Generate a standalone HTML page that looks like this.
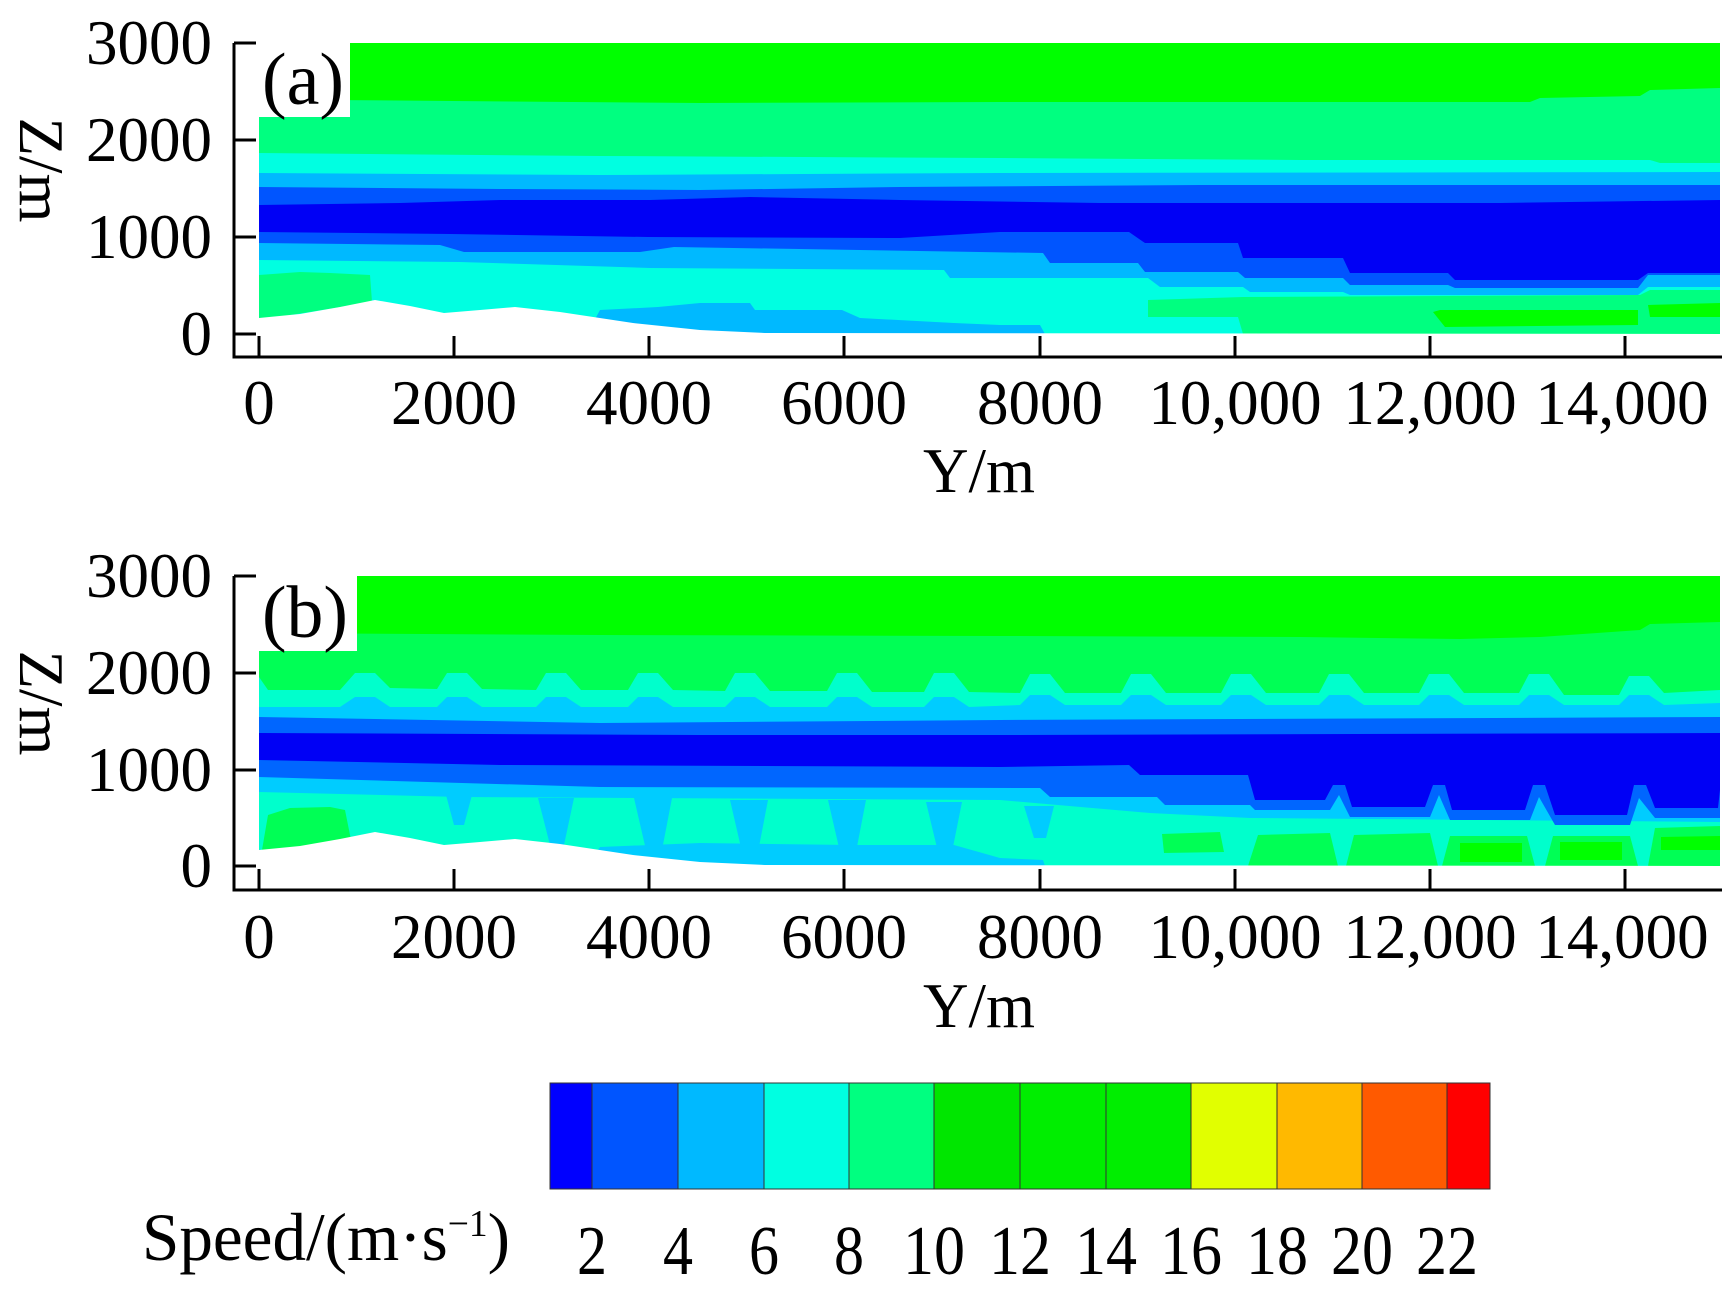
<!DOCTYPE html>
<html><head><meta charset="utf-8"><style>
html,body{margin:0;padding:0;background:#fff;}
svg{display:block;}
text{font-family:"Liberation Serif",serif;fill:#000;}
</style></head><body>
<svg width="1730" height="1297" viewBox="0 0 1730 1297" xmlns="http://www.w3.org/2000/svg">

<!-- ================= PLOT A ================= -->
<g>
<rect x="259" y="43" width="1461" height="291" fill="#00ffe1"/>
<path fill="#00b9ff" d="M259,43 L259,260 L460,262 L650,268 L944,270 L950,278 L1148,278 L1160,287 L1243,287 L1250,292 L1343,292 L1350,295 L1638,295 L1648,287 L1720,287 L1720,43 Z"/>
<path fill="#0055ff" d="M259,43 L259,243 L440,245 L464,252 L640,252 L674,247 L1043,253 L1050,263 L1138,263 L1145,272 L1238,272 L1245,278 L1343,278 L1350,285 L1448,285 L1455,288 L1638,288 L1648,275 L1720,275 L1720,43 Z"/>
<path fill="#0000f5" d="M259,43 L259,232 L450,234 L648,237 L900,238 L1000,232 L1129,232 L1145,243 L1238,243 L1243,258 L1343,258 L1350,273 L1448,273 L1455,280 L1638,280 L1648,273 L1720,273 L1720,43 Z"/>
<path fill="#0055ff" d="M259,43 L259,205 L400,203 L500,200 L650,200 L750,197 L900,200 L1100,203 L1300,203 L1500,203 L1720,200 L1720,43 Z"/>
<path fill="#00b9ff" d="M259,43 L259,187 L500,189 L700,190 L900,187 L1200,185 L1720,185 L1720,43 Z"/>
<path fill="#00ffe1" d="M259,43 L259,173 L600,175 L1000,173 L1720,172 L1720,43 Z"/>
<path fill="#00ff80" d="M259,43 L259,153 L600,156 L1000,158 L1300,160 L1650,160 L1660,163 L1720,163 L1720,43 Z"/>
<path fill="#00ff00" d="M259,43 L259,100 L330,100 L700,103 L1000,102 L1530,102 L1540,98 L1640,96 L1650,90 L1720,88 L1720,43 Z"/>
<path fill="#00ff80" d="M259,275 L300,272 L330,273 L370,275 L372,302 L259,320 Z"/>
<path fill="#00b9ff" d="M587,334 L600,310 L658,307 L700,303 L750,303 L755,310 L842,310 L860,318 L954,323 L1000,325 L1040,325 L1045,334 Z"/>
<path fill="#00ff80" d="M1148,317 L1148,300 L1243,297 L1640,295 L1650,290 L1720,290 L1720,334 L1243,334 L1238,317 Z"/>
<path fill="#00ff00" d="M1433,312 L1440,310 L1638,310 L1638,325 L1445,327 Z"/>
<path fill="#00ff00" d="M1648,305 L1720,303 L1720,317 L1650,317 Z"/>
<path fill="#fff" d="M259,318 L300,314 L340,307 L375,300 L410,306 L444,313 L480,310 L515,307 L560,312 L633,323 L700,330 L765,333 L1720,334 L1720,340 L259,340 Z"/>
<rect x="234" y="40" width="116" height="77" fill="#fff"/>
<text x="262" y="104" font-size="74" textLength="82" lengthAdjust="spacingAndGlyphs">(a)</text>
<path d="M234,43 L234,357 L1722,357" fill="none" stroke="#000" stroke-width="3"/>
<g stroke="#000" stroke-width="3">
<line x1="234" y1="43" x2="256" y2="43"/><line x1="234" y1="140" x2="256" y2="140"/>
<line x1="234" y1="237" x2="256" y2="237"/><line x1="234" y1="334" x2="256" y2="334"/>
<line x1="259" y1="357" x2="259" y2="336"/><line x1="454" y1="357" x2="454" y2="336"/>
<line x1="649" y1="357" x2="649" y2="336"/><line x1="844" y1="357" x2="844" y2="336"/>
<line x1="1040" y1="357" x2="1040" y2="336"/><line x1="1235" y1="357" x2="1235" y2="336"/>
<line x1="1430" y1="357" x2="1430" y2="336"/><line x1="1625" y1="357" x2="1625" y2="336"/>
</g>
<g font-size="63" text-anchor="end">
<text x="212" y="64">3000</text><text x="212" y="161">2000</text>
<text x="212" y="258">1000</text><text x="212" y="355">0</text>
</g>
<g font-size="63" text-anchor="middle">
<text x="259" y="424">0</text><text x="454" y="424">2000</text><text x="649" y="424">4000</text>
<text x="844" y="424">6000</text><text x="1040" y="424">8000</text><text x="1235" y="424">10,000</text>
<text x="1430" y="424">12,000</text><text x="1622" y="424">14,000</text>
<text x="979" y="492">Y/m</text>
</g>
<text transform="translate(20,170) rotate(90)" font-size="63" text-anchor="middle">Z/m</text>
</g>

<!-- ================= PLOT B ================= -->
<g>
<rect x="259" y="576" width="1461" height="290" fill="#00ffcc"/>
<path fill="#00ccff" d="M259,576 L259,792 L460,797 L1000,800 L1150,813 L1250,818 L1720,822 L1720,576 Z"/>
<path fill="#0066ff" d="M259,576 L259,777 L600,787 L1040,788 L1050,797 L1157,797 L1165,805 L1250,805 L1255,810 L1330,810 L1339,795 L1350,817 L1430,817 L1439,795 L1450,820 L1530,820 L1539,797 L1555,825 L1630,825 L1639,798 L1655,818 L1720,818 L1720,576 Z"/>
<path fill="#0000f5" d="M259,576 L259,760 L500,765 L1000,767 L1129,765 L1140,775 L1248,775 L1255,800 L1325,800 L1333,785 L1345,785 L1352,807 L1425,807 L1433,785 L1445,785 L1452,810 L1525,810 L1533,785 L1545,785 L1555,815 L1627,815 L1634,785 L1646,785 L1655,808 L1718,808 L1720,790 L1720,576 Z"/>
<path fill="#0066ff" d="M259,576 L259,733 L700,735 L1000,735 L1720,733 L1720,576 Z"/>
<path fill="#00ccff" d="M259,576 L259,717 L600,723 L1000,720 L1720,717 L1720,576 Z"/>
<path fill="#00ffcc" d="M259,576 L259,707 L340,707 L355,697 L375,697 L390,707 L437,707 L447,697 L467,697 L482,707 L536,707 L546,697 L566,697 L581,707 L628,707 L638,697 L658,697 L673,707 L725,707 L735,697 L755,697 L770,707 L827,707 L837,697 L857,697 L872,707 L924,707 L934,697 L954,697 L969,707 L1020,705 L1030,695 L1050,695 L1065,705 L1121,705 L1131,695 L1151,695 L1166,705 L1221,705 L1231,695 L1251,695 L1266,705 L1319,705 L1329,695 L1349,695 L1364,705 L1419,705 L1429,695 L1449,695 L1464,705 L1519,705 L1529,695 L1549,695 L1564,705 L1619,705 L1629,695 L1649,695 L1664,705 L1720,703 L1720,576 Z"/>
<path fill="#00ff55" d="M259,576 L259,677 L268,690 L340,690 L355,673 L375,673 L390,688 L437,689 L447,673 L467,673 L482,689 L536,690 L546,673 L566,673 L581,690 L628,690 L638,673 L658,673 L673,690 L725,691 L735,673 L755,673 L770,691 L827,691 L837,673 L857,673 L872,692 L924,692 L934,673 L954,673 L969,692 L1020,693 L1030,674 L1050,674 L1065,693 L1121,693 L1131,674 L1151,674 L1166,693 L1221,693 L1231,674 L1251,674 L1266,693 L1319,693 L1329,674 L1349,674 L1364,693 L1419,693 L1429,674 L1449,674 L1464,693 L1519,693 L1529,674 L1549,674 L1564,695 L1619,695 L1629,676 L1649,676 L1664,693 L1720,690 L1720,576 Z"/>
<path fill="#00ff00" d="M259,576 L259,633 L600,635 L1000,636 L1300,637 L1460,639 L1540,637 L1640,630 L1650,624 L1720,622 L1720,576 Z"/>
<!-- lb notches (wider, V-shaped) -->
<g fill="#00ccff">
<path d="M446,795 L472,795 L464,825 L454,825 Z"/>
<path d="M538,798 L574,798 L564,845 L550,845 Z"/>
<path d="M634,798 L672,798 L662,850 L646,850 Z"/>
<path d="M730,800 L768,800 L758,852 L742,852 Z"/>
<path d="M828,800 L866,800 L856,852 L840,852 Z"/>
<path d="M926,802 L962,802 L952,852 L938,852 Z"/>
<path d="M1024,806 L1054,806 L1046,838 L1034,838 Z"/>
</g>
<path fill="#00ccff" d="M587,866 L600,847 L700,843 L850,845 L954,845 L1000,858 L1043,860 L1045,866 Z"/>
<path fill="#00ff55" d="M262,850 L268,815 L290,808 L330,807 L345,810 L352,845 Z"/>
<path fill="#00ff55" d="M1162,834 L1220,832 L1224,852 L1164,853 Z"/>
<path fill="#00ff55" d="M1248,866 L1258,835 L1330,833 L1338,866 Z"/>
<path fill="#00ff55" d="M1346,866 L1354,835 L1430,833 L1438,866 Z"/>
<path fill="#00ff55" d="M1442,866 L1450,836 L1527,836 L1535,866 Z"/>
<path fill="#00ff55" d="M1545,866 L1553,836 L1630,836 L1638,866 Z"/>
<path fill="#00ff55" d="M1648,866 L1655,828 L1720,826 L1720,866 Z"/>
<path fill="#00ff00" d="M1460,843 L1522,843 L1522,862 L1460,862 Z"/>
<path fill="#00ff00" d="M1560,842 L1622,842 L1622,860 L1560,860 Z"/>
<path fill="#00ff00" d="M1661,837 L1720,836 L1720,850 L1661,850 Z"/>
<path fill="#fff" d="M259,850 L300,846 L340,839 L375,832 L410,838 L444,845 L480,842 L515,839 L560,844 L633,855 L700,862 L765,865 L1720,866 L1720,872 L259,872 Z"/>
<rect x="234" y="573" width="123" height="78" fill="#fff"/>
<text x="262" y="637" font-size="74" textLength="86" lengthAdjust="spacingAndGlyphs">(b)</text>
<path d="M234,576 L234,890 L1722,890" fill="none" stroke="#000" stroke-width="3"/>
<g stroke="#000" stroke-width="3">
<line x1="234" y1="576" x2="256" y2="576"/><line x1="234" y1="673" x2="256" y2="673"/>
<line x1="234" y1="770" x2="256" y2="770"/><line x1="234" y1="866" x2="256" y2="866"/>
<line x1="259" y1="890" x2="259" y2="869"/><line x1="454" y1="890" x2="454" y2="869"/>
<line x1="649" y1="890" x2="649" y2="869"/><line x1="844" y1="890" x2="844" y2="869"/>
<line x1="1040" y1="890" x2="1040" y2="869"/><line x1="1235" y1="890" x2="1235" y2="869"/>
<line x1="1430" y1="890" x2="1430" y2="869"/><line x1="1625" y1="890" x2="1625" y2="869"/>
</g>
<g font-size="63" text-anchor="end">
<text x="212" y="597">3000</text><text x="212" y="694">2000</text>
<text x="212" y="791">1000</text><text x="212" y="887">0</text>
</g>
<g font-size="63" text-anchor="middle">
<text x="259" y="958">0</text><text x="454" y="958">2000</text><text x="649" y="958">4000</text>
<text x="844" y="958">6000</text><text x="1040" y="958">8000</text><text x="1235" y="958">10,000</text>
<text x="1430" y="958">12,000</text><text x="1622" y="958">14,000</text>
<text x="979" y="1027">Y/m</text>
</g>
<text transform="translate(20,703) rotate(90)" font-size="63" text-anchor="middle">Z/m</text>
</g>

<!-- ================= COLORBAR ================= -->
<g stroke="#333" stroke-width="1">
<rect x="550" y="1083" width="42" height="106" fill="#0000ff"/>
<rect x="592" y="1083" width="86" height="106" fill="#0055ff"/>
<rect x="678" y="1083" width="86" height="106" fill="#00b9ff"/>
<rect x="764" y="1083" width="85" height="106" fill="#00ffe1"/>
<rect x="849" y="1083" width="85" height="106" fill="#00ff80"/>
<rect x="934" y="1083" width="86" height="106" fill="#00e600"/>
<rect x="1020" y="1083" width="86" height="106" fill="#00ee00"/>
<rect x="1106" y="1083" width="85" height="106" fill="#00ee00"/>
<rect x="1191" y="1083" width="86" height="106" fill="#e1ff00"/>
<rect x="1277" y="1083" width="85" height="106" fill="#ffb900"/>
<rect x="1362" y="1083" width="85" height="106" fill="#ff5a00"/>
<rect x="1447" y="1083" width="43" height="106" fill="#ff0000"/>
</g>
<g font-size="70" text-anchor="middle">
<text x="592" y="1274" textLength="30" lengthAdjust="spacingAndGlyphs">2</text>
<text x="678" y="1274" textLength="30" lengthAdjust="spacingAndGlyphs">4</text>
<text x="764" y="1274" textLength="30" lengthAdjust="spacingAndGlyphs">6</text>
<text x="849" y="1274" textLength="30" lengthAdjust="spacingAndGlyphs">8</text>
<text x="934" y="1274" textLength="62" lengthAdjust="spacingAndGlyphs">10</text>
<text x="1020" y="1274" textLength="62" lengthAdjust="spacingAndGlyphs">12</text>
<text x="1106" y="1274" textLength="62" lengthAdjust="spacingAndGlyphs">14</text>
<text x="1191" y="1274" textLength="62" lengthAdjust="spacingAndGlyphs">16</text>
<text x="1277" y="1274" textLength="62" lengthAdjust="spacingAndGlyphs">18</text>
<text x="1362" y="1274" textLength="62" lengthAdjust="spacingAndGlyphs">20</text>
<text x="1447" y="1274" textLength="62" lengthAdjust="spacingAndGlyphs">22</text>
</g>
<text x="142" y="1260" font-size="68" textLength="368" lengthAdjust="spacingAndGlyphs">Speed/(m·s<tspan font-size="38" dy="-24">−1</tspan><tspan dy="24">)</tspan></text>
</svg>
</body></html>
